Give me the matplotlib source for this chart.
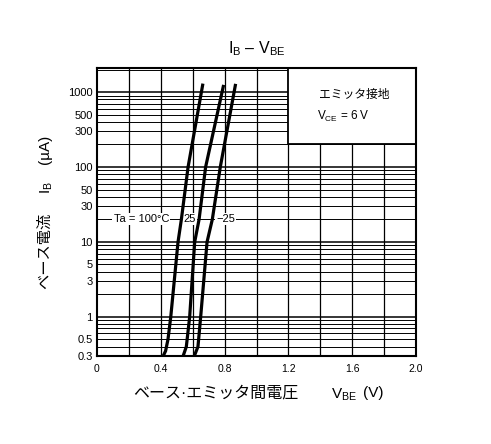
import matplotlib
matplotlib.use("Agg")
import matplotlib.pyplot as plt
import numpy as np
from matplotlib.patches import Rectangle

plt.rcParams['font.family'] = ['Liberation Sans', 'Noto Sans CJK JP']
plt.rcParams['mathtext.fontset'] = 'custom'
plt.rcParams['mathtext.rm'] = 'Liberation Sans'

# curves (V_BE in V, I_B in uA)
vbe_100 = [0.415, 0.43, 0.445, 0.4625, 0.508, 0.529, 0.571, 0.664]
ib_100 = [0.3, 0.35, 0.5, 1, 10, 20, 100, 1300]
vbe_25 = [0.54, 0.56, 0.581, 0.6125, 0.64, 0.681, 0.794]
ib_25 = [0.3, 0.4, 1, 10, 20, 100, 1250]
vbe_m25 = [0.61, 0.633, 0.65, 0.69, 0.723, 0.773, 0.869]
ib_m25 = [0.3, 0.4, 1, 10, 20, 100, 1290]

xticks = [0, 0.4, 0.8, 1.2, 1.6, 2.0]
xticklabels = ["0", "0.4", "0.8", "1.2", "1.6", "2.0"]
yticks = [0.3, 0.5, 1, 3, 5, 10, 30, 50, 100, 300, 500, 1000]
yticklabels = ["0.3", "0.5", "1", "3", "5", "10", "30", "50", "100", "300", "500", "1000"]
temp_labels = ["Ta = 100°C", "25", "\u221225"]
temp_label_x = [0.278, 0.58, 0.805]

fig = plt.figure(figsize=(4.91, 4.44), dpi=100)
ax = fig.add_axes([97 / 491, 1 - 356 / 444, 319 / 491, 288 / 444])

ymin, ymax = 0.3, 2100
ax.set_xlim(0, 2.0)
ax.set_yscale('log')
ax.set_ylim(ymin, ymax)

# grid: every 0.2 V, and 1..9 in each decade
for x in np.arange(0.2, 2.0, 0.2):
    ax.axvline(x, color='black', lw=0.9, zorder=1)
for dec in [0.1, 1, 10, 100, 1000]:
    for m in range(1, 10):
        v = dec * m
        if ymin < v < ymax:
            ax.axhline(v, color='black', lw=1.1 if m == 1 else 0.7, zorder=1)

# white box with the conditions
ax.add_patch(Rectangle((1.2, 200), 0.8, ymax - 200, facecolor='white',
                       edgecolor='black', lw=1.3, zorder=3))
ax.text(1.394, 920, "エミッタ接地", fontsize=8.5, va='center', ha='left', zorder=4)
ax.text(1.381, 470, r"$\mathregular{V_{CE}}$ = 6 V", fontsize=8.5,
        va='center', ha='left', zorder=4)

for lbl, lx in zip(temp_labels, temp_label_x):
    ax.text(lx, 20, lbl, fontsize=8, ha='center', va='center', zorder=2,
            bbox=dict(facecolor='white', edgecolor='none', pad=0.8))

for vx, iy in [(vbe_100, ib_100), (vbe_25, ib_25), (vbe_m25, ib_m25)]:
    ax.plot(vx, iy, color='black', lw=2.3, solid_joinstyle='round',
            solid_capstyle='butt', zorder=5)

ax.set_xticks(xticks)
ax.set_xticklabels(xticklabels)
ax.set_yticks(yticks)
ax.set_yticklabels(yticklabels)
ax.yaxis.set_minor_locator(plt.NullLocator())
ax.tick_params(length=0)
ax.tick_params(axis='x', labelsize=7.5, pad=6)
ax.tick_params(axis='y', labelsize=8, pad=3)
for s in ax.spines.values():
    s.set_linewidth(1.5)
    s.set_zorder(6)

# title and axis labels
title = r"$\mathregular{I_B}$" + " \u2013 " + r"$\mathregular{V_{BE}}$"
fig.text(256.5 / 491, 1 - 49 / 444, title, fontsize=11.5, ha='center', va='center')
fig.text(298 / 491, 1 - 393 / 444, "ベース·エミッタ間電圧", fontsize=11.5,
         ha='right', va='center')
fig.text(331 / 491, 1 - 395 / 444, r"$\mathregular{V_{BE}}$", fontsize=11,
         ha='left', va='center')
fig.text(363 / 491, 1 - 393 / 444, "(V)", fontsize=11, ha='left', va='center')

fig.text(45 / 491, 1 - 251 / 444, "ベース電流", fontsize=11, rotation=90,
         ha='center', va='center')
fig.text(47 / 491, 1 - 188 / 444, r"$\mathregular{I_B}$", fontsize=11,
         rotation=90, ha='center', va='center')
fig.text(45 / 491, 1 - 149 / 444, "(µA)", fontsize=11, rotation=90,
         ha='center', va='center')

fig.savefig("out.png", dpi=100)
